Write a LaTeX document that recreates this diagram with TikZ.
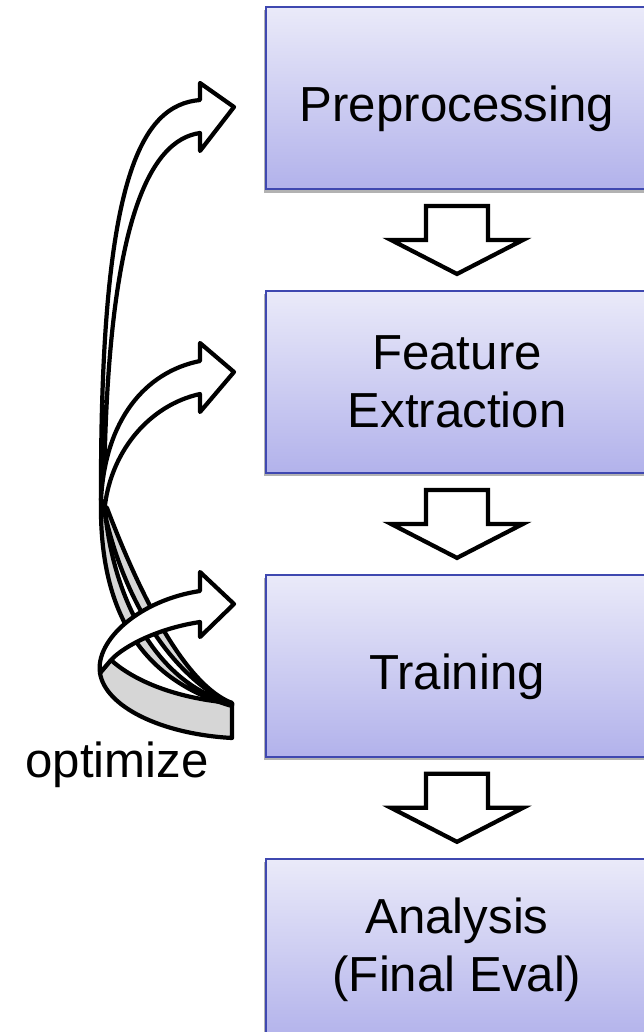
\documentclass[tikz,border=0pt]{standalone}
\usepackage{fontspec}
\setmainfont{Liberation Sans}
\definecolor{boxedge}{RGB}{63,72,176}
\definecolor{boxtop}{RGB}{234,234,249}
\definecolor{boxbottom}{RGB}{178,178,235}
\definecolor{ribbon}{RGB}{214,214,214}
\usetikzlibrary{calc, positioning, shadows}

\begin{document}
\begin{tikzpicture}[
    box/.style={draw=boxedge, line width=1.1pt, top color=boxtop, bottom color=boxbottom,
      minimum width=7.64cm, minimum height=3.64cm, align=center,
      font=\fontsize{28}{33}\selectfont,
      drop shadow={shadow xshift=-0.4mm, shadow yshift=-0.7mm, opacity=0.3, fill=black}},
    oneline/.style={text height=1.1cm, text depth=0.16cm},
    blockarrow/.style={draw=black, line width=2.4pt, fill=white},
    ribbonfront/.style={draw=black, line width=2.4pt, line join=round, fill=white},
    ribbonback/.style={draw=black, line width=2.4pt, line join=round, fill=ribbon},
  ]
    \useasboundingbox (0,0) rectangle (12.86,-20.64);

    % pipeline stages
    \node[box, oneline] (pre) at (9.14,-1.96) {Preprocessing};
    \node[box, below=2cm of pre] (feat) {Feature\\Extraction};
    \node[box, oneline, below=2cm of feat] (train) {Training};
    \node[box, below=2cm of train] (eval) {Analysis\\(Final Eval)};

    % hollow arrows between stages
    \foreach \a/\b in {pre/feat, feat/train, train/eval}
      \draw[blockarrow] ($(\a.south)+(-0.62,-0.32)$) -- ++(1.24,0) -- ++(0,-0.68) -- ++(0.7,0)
        -- ($(\b.north)+(0,0.32)$) -- ++(-1.32,0.68) -- ++(0.7,0) -- cycle;

    % twisted ribbon arrows, back sides first
    \draw[ribbonback] (4.64,-14.76) .. controls (3.20,-14.68) and (2.10,-14.12) .. (2.00,-13.46)
      -- (2.22,-13.20) .. controls (2.60,-13.55) and (3.40,-13.96) .. (4.64,-14.06) -- cycle;
    \draw[ribbonback] (2.02,-10.00) .. controls (1.98,-12.20) and (2.80,-13.60) .. (4.64,-14.12)
      -- (4.64,-14.06) .. controls (3.30,-13.76) and (2.24,-12.20) .. (2.08,-10.00) -- cycle;
    \draw[ribbonback] (2.06,-10.10) .. controls (2.40,-11.80) and (3.30,-13.44) .. (4.64,-14.10)
      -- (4.64,-14.06) .. controls (3.70,-13.70) and (2.80,-11.90) .. (2.14,-10.16) -- cycle;

    % front sides with heads
    \draw[ribbonfront] (2.02,-10.00) .. controls (2.00,-3.60) and (2.80,-2.10) .. (4.00,-2.00)
      -- (4.00,-1.66) -- (4.68,-2.14) -- (4.00,-3.02) -- (4.00,-2.66)
      .. controls (3.00,-2.80) and (2.12,-4.40) .. (2.08,-10.00) -- cycle;
    \draw[ribbonfront] (2.02,-10.00) .. controls (2.10,-8.40) and (2.90,-7.44) .. (4.00,-7.22)
      -- (4.00,-6.86) -- (4.68,-7.44) -- (4.00,-8.24) -- (4.00,-7.88)
      .. controls (3.00,-8.10) and (2.24,-9.00) .. (2.10,-10.10) -- cycle;
    \draw[ribbonfront] (2.00,-13.46) .. controls (1.90,-12.80) and (2.80,-12.00) .. (4.00,-11.82)
      -- (4.00,-11.44) -- (4.68,-12.08) -- (4.00,-12.74) -- (4.00,-12.44)
      .. controls (3.20,-12.56) and (2.50,-12.90) .. (2.22,-13.20) -- cycle;

    \node[anchor=base, font=\fontsize{28}{33}\selectfont] (opt) at (2.34,-15.54) {optimize};
\end{tikzpicture}
\end{document}
